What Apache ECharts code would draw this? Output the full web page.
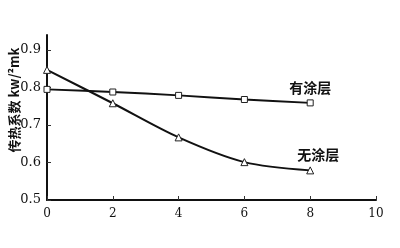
<!DOCTYPE html>
<html><head><meta charset="utf-8">
<script src="https://cdn.jsdelivr.net/npm/echarts@6/dist/echarts.min.js"></script>
<style>html,body{margin:0;padding:0;background:#fff}#c{width:400px;height:248px}</style>
</head><body><div id="c"></div>
<script>
const xValues = [0, 2, 4, 6, 8];
const coated = [0.795, 0.788, 0.779, 0.768, 0.759];
const uncoated = [0.847, 0.758, 0.667, 0.601, 0.579];
const seriesNames = ['有涂层', '无涂层'];
const yTicks = [0.5, 0.6, 0.7, 0.8, 0.9];
const yName = '传热系数 kw/²mk';

const chart = echarts.init(document.getElementById('c'));
const font = 'DejaVu Serif';
function pts(v){ return xValues.map((x,i)=>[x, v[i]]); }
chart.setOption({
  animation: false,
  grid: {left: 47, right: 24, top: 35, bottom: 48, containLabel: false, outerBoundsMode: 'none'},
  graphic: [{
    type: 'text', x: 14, y: 100, rotation: Math.PI / 2,
    style: {text: yName, align: 'center', verticalAlign: 'middle', fill: '#111',
      font: 'bold 13px "Noto Sans CJK SC"'}
  }],
  xAxis: {
    type: 'value', min: 0, max: 10, interval: 2,
    axisLine: {lineStyle: {color: '#111', width: 2}},
    axisTick: {inside: true, length: 4, lineStyle: {color: '#333'}},
    splitLine: {show: false},
    axisLabel: {color: '#111', fontFamily: font, fontSize: 12, margin: 8}
  },
  yAxis: {
    type: 'value', min: 0.5, max: 0.94, interval: 0.1,
    axisLine: {show: true, lineStyle: {color: '#111', width: 2}},
    axisTick: {show: true, inside: true, length: 4, customValues: yTicks, lineStyle: {color: '#333'}},
    splitLine: {show: false},
    axisLabel: {color: '#111', fontFamily: font, fontSize: 13, margin: 6, customValues: yTicks,
      formatter: v => v.toFixed(1)}
  },
  series: [
    {name: seriesNames[0], type: 'line', data: pts(coated), smooth: 0.3,
     symbol: 'rect', symbolSize: 6, showAllSymbol: true,
     itemStyle: {color: '#fff', borderColor: '#222', borderWidth: 1},
     lineStyle: {color: '#111', width: 2},
     label: {show: true, position: 'top', distance: 5, offset: [0, 0],
       formatter: p => p.dataIndex === xValues.length - 1 ? seriesNames[0] : '',
       color: '#111', fontFamily: 'Noto Sans CJK SC', fontSize: 14, fontWeight: 'bold'}
    },
    {name: seriesNames[1], type: 'line', data: pts(uncoated), smooth: 0.3,
     symbol: 'triangle', symbolSize: 7, showAllSymbol: true,
     itemStyle: {color: '#fff', borderColor: '#222', borderWidth: 1},
     lineStyle: {color: '#111', width: 2},
     label: {show: true, position: 'top', distance: 5, offset: [8, 0],
       formatter: p => p.dataIndex === xValues.length - 1 ? seriesNames[1] : '',
       color: '#111', fontFamily: 'Noto Sans CJK SC', fontSize: 14, fontWeight: 'bold'}
    }
  ]
});
</script></body></html>
